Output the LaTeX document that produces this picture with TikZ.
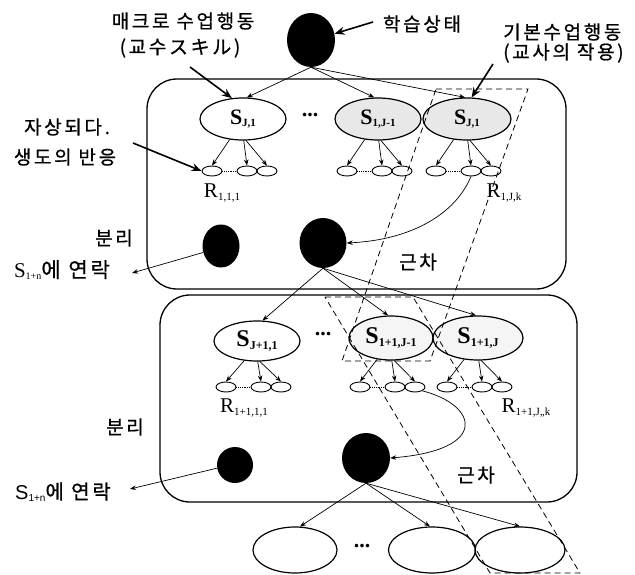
\documentclass[tikz,border=0pt]{standalone}
\usepackage{fontspec}
\setmainfont{Liberation Serif}
\setsansfont{Liberation Sans}
\newfontfamily\kr[LetterSpace=14,FakeBold=0.8]{Noto Sans CJK KR}
\usetikzlibrary{shapes.geometric,arrows.meta}
\newcommand\subl[3]{#1\raisebox{-2.5pt}{\fontsize{#3}{#3}\selectfont #2}}
\begin{document}
\begin{tikzpicture}[x=1pt,y=-1pt,
  box/.style={draw,line width=1.3pt,rounded corners=30pt},
  sst/.style={ellipse,draw,line width=1.2pt,minimum width=86pt,minimum height=42pt,inner sep=0pt,font=\fontsize{22}{22}\selectfont\bfseries},
  sstb/.style={sst,font=\fontsize{24}{24}\selectfont\bfseries},
  big/.style={ellipse,draw,line width=1.2pt,minimum width=86pt,minimum height=46pt,inner sep=0pt},
  rr/.style={ellipse,draw,line width=0.9pt,minimum width=20pt,minimum height=10pt,inner sep=0pt},
  blob/.style={ellipse,fill=black,inner sep=0pt},
  arr/.style={-{Stealth[length=6pt,width=4.5pt]},line width=0.7pt},
  bigarr/.style={-{Stealth[length=10pt,width=8pt]},line width=1.6pt},
  dsh/.style={dash pattern=on 6pt off 4pt, line width=0.8pt},
  kt/.style={font=\kr\fontsize{19}{21}\selectfont, inner sep=0pt},
  lab/.style={font=\fontsize{21}{21}\selectfont, inner sep=0pt},
  dots/.style={font=\fontsize{22}{22}\selectfont\bfseries, inner sep=0pt},
]
\useasboundingbox (0,0) rectangle (635,575);

% boxes
\draw[box] (147,79) rectangle (566,289);
\draw[box] (160,295) rectangle (577,502);

% top circle and labels
\node[blob,minimum width=48pt,minimum height=54pt] (top) at (311,40) {};
\node[kt] (lstate) at (422,24) {학습상태};
\node[kt] (lmacro) at (183,21) {매크로 수업행동};
\node[kt] (lmacro2) at (180,48) {(교수スキル)};
\node[kt,anchor=west] (lbasic) at (503,32) {기본수업행동};
\node[kt,anchor=west] (lbasic2) at (503,53) {(교사의 작용)};
\node[kt] (lresp) at (67,127) {자상되다.};
\node[kt] (lresp2) at (65,157) {생도의 반응};

% first row S
\node[sst] (s11) at (243,119) {\subl{S}{J,1}{11}};
\node[sst,fill=gray!18] (s12) at (378,119) {\subl{S}{1,J-1}{11}};
\node[sst,fill=gray!18,minimum width=88pt] (s13) at (467,119) {\subl{S}{J,1}{11}};
\node[dots] (d1) at (310,115) {...};

% second row S
\node[sstb,minimum height=40pt] (s21) at (257,341) {\subl{S}{J+1,1}{12}};
\node[sstb,fill=gray!8,minimum width=84pt,minimum height=44pt] (s22) at (391,338) {\subl{S}{1+1,J-1}{12}};
\node[sstb,fill=gray!8,minimum width=90pt,minimum height=44pt] (s23) at (478,338) {\subl{S}{1+1,J}{12}};
\node[dots] (d2) at (323,334) {...};

% R groups
\foreach \g/\sn/\cx/\cy in {a/s11/243/171, b/s12/378/171, c/s13/467/171, d/s21/257/387, e/s22/391/387, f/s23/478/387} {
  \node[rr] (\g1) at (\cx-31,\cy) {};
  \node[rr] (\g2) at (\cx+4,\cy) {};
  \node[rr] (\g3) at (\cx+24,\cy) {};
  \draw[densely dotted,line width=0.8pt] (\g1.east) -- (\g2.west);
  \draw[arr] (\sn.237) -- (\g1.north);
  \draw[arr] (\sn.272) -- (\g2.north);
  \draw[arr] (\sn.278) -- (\g3.north);
}
\node[lab] (r1) at (222,193) {\subl{R}{1,1,1}{11}};
\node[lab] (r2) at (504,193) {\subl{R}{1,J,k}{11}};
\node[lab] (r3) at (244,408) {\subl{R}{1+1,1,1}{11}};
\node[lab] (r4) at (526,408) {\subl{R}{1+1,J,,k}{11}};

% arrows from top circle
\draw[arr] (top.south) -- (s11.80);
\draw[arr] (top.south) -- (s12.100);
\draw[arr] (top.south) -- (s13.95);

% label arrows
\coordinate (amacro) at (190,67);
\coordinate (astate) at (373,22);
\coordinate (abasic) at (493,64);
\coordinate (aresp) at (133,143);
\draw[bigarr] (amacro) -- (s11.118);
\draw[bigarr] (astate) -- (top.15);
\draw[bigarr] (abasic) -- (s13.78);
\draw[bigarr] (aresp) -- (a1.west);

% middle of first box
\node[blob,minimum width=47pt,minimum height=50pt] (c1) at (323,243) {};
\node[blob,minimum width=37pt,minimum height=43pt] (sep1) at (221,246) {};
\node[kt] (lsep1) at (114,238) {분리};
\node[font=\fontsize{21}{21}\selectfont,inner sep=0pt] (lcon1) at (62,270) {\subl{S}{1+n}{10}{\kr 에 연락}};
\coordinate (acon1) at (132,273);
\draw[arr] (sep1.200) -- (acon1);
\node[kt] (lapp1) at (418,262) {근차};
\draw[arr] (c2.south) .. controls (455,215) and (410,240) .. (c1.east);

% arrows to second row
\draw[arr] (c1.south) -- (s21.75);
\draw[arr] (c1.south) -- (s22.97);
\draw[arr] (c1.south) -- (s23.95);

% middle of second box
\node[blob,minimum width=48pt,minimum height=50pt] (c2) at (366,458) {};
\node[blob,minimum width=36pt,minimum height=36pt] (sep2) at (235,465) {};
\node[kt] (lsep2) at (125,427) {분리};
\node[font=\sffamily\fontsize{20}{20}\selectfont,inner sep=0pt] (lcon2) at (63,492) {\subl{S}{1+n}{10}{\kr 에 연락}};
\coordinate (acon2) at (130,489);
\draw[arr] (sep2.190) -- (acon2);
\node[kt] (lapp2) at (476,475) {근차};
\draw[arr] (e3.south east) .. controls (478,405) and (490,450) .. (c2.east);

% bottom row
\node[big,minimum width=84pt] (b1) at (295,550) {};
\node[big,minimum width=87pt] (b2) at (432,550) {};
\node[big,minimum width=90pt] (b3) at (520,550) {};
\node[dots] (d3) at (362,546) {...};
\draw[arr] (c2.south) -- (b1.78);
\draw[arr] (c2.south) -- (b2.95);
\draw[arr] (c2.south) -- (b3.north);

% dashed approximation regions
\draw[dsh] (436,89) -- (528,89) -- (430,361) -- (342,361) -- cycle;
\draw[dsh] (325,297) -- (413,297) -- (580,573) -- (490,573) -- cycle;
\end{tikzpicture}
\end{document}
